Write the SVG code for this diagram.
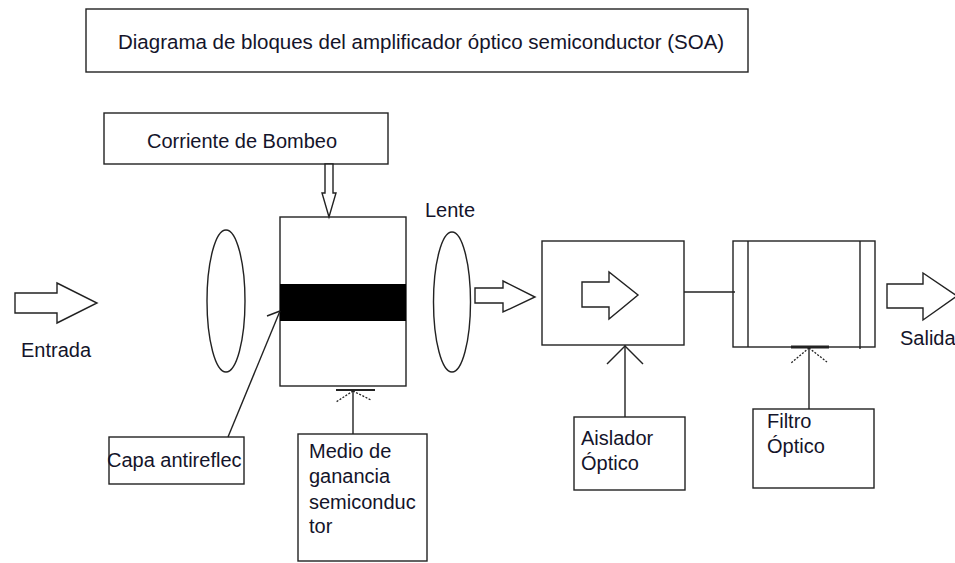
<svg xmlns="http://www.w3.org/2000/svg" width="955" height="563" viewBox="0 0 955 563">
<style>
.b{fill:#fff;stroke:#222;stroke-width:1.4}
.l{fill:none;stroke:#222;stroke-width:1.4}
.d{fill:none;stroke:#222;stroke-width:1.3;stroke-dasharray:2 1.5}
.t{font-family:"Liberation Sans",Arial,sans-serif;font-size:20px;fill:#14142a}
</style>
<rect width="955" height="563" fill="#fff"/>
<g id="title"><rect class="b" x="86" y="9" width="662" height="63"/><text class="t" x="118" y="49" style="font-size:20.5px">Diagrama de bloques del amplificador óptico semiconductor (SOA)</text></g>
<g id="corriente"><rect class="b" x="104" y="113" width="284" height="51"/><text class="t" x="147" y="148">Corriente de Bombeo</text></g>
<g id="soa"><rect class="b" x="280" y="217" width="126" height="169"/><rect x="280" y="284" width="126" height="37" fill="#000"/></g>
<g id="lens1"><ellipse class="l" cx="226" cy="301" rx="19" ry="71"/></g>
<g id="lens2"><ellipse class="l" cx="452" cy="302" rx="18.5" ry="70"/><text class="t" x="425" y="217">Lente</text></g>
<g id="entrada"><polygon class="b" points="15,293 57,293 57,283 97,303 57,323 57,313 15,313"/><text class="t" x="21" y="357">Entrada</text></g>
<g id="aislador"><rect class="b" x="542" y="241" width="142" height="104"/><polygon class="b" points="582,282 609,282 609,272 638,295 609,319 609,307 582,307"/></g>
<g id="filtro"><rect class="b" x="733" y="241" width="142" height="106"/><line class="l" x1="748" y1="241" x2="748" y2="347"/><line class="l" x1="860" y1="241" x2="860" y2="349"/></g>
<g id="salida"><polygon class="b" points="887,284 923,284 923,273 957,296 923,320 923,308 887,308"/><text class="t" x="900" y="345">Salida</text></g>
<g id="capa"><rect class="b" x="109" y="437" width="135" height="47"/><text class="t" x="107" y="467">Capa antireflec</text></g>
<g id="medio"><rect class="b" x="298" y="434" width="129" height="127"/><text class="t"><tspan x="309" y="458">Medio de</tspan><tspan x="309" y="483">ganancia</tspan><tspan x="309" y="509">semiconduc</tspan><tspan x="309" y="533">tor</tspan></text></g>
<g id="aislador-label"><rect class="b" x="574" y="417" width="111" height="73"/><text class="t"><tspan x="581" y="445">Aislador</tspan><tspan x="581" y="470">Óptico</tspan></text></g>
<g id="filtro-label"><rect class="b" x="753" y="409" width="121" height="79"/><text class="t"><tspan x="767" y="428">Filtro</tspan><tspan x="767" y="453">Óptico</tspan></text></g>
<g id="connectors">
<polygon class="b" points="325,164 333,164 333,193 336,193 329,217 322,193 325,193"/>
<polygon class="b" points="475,288 503,288 503,281 535,297 503,312 503,303 475,303"/>
<line class="l" x1="684" y1="292" x2="735" y2="292"/>
<line class="l" x1="228" y1="437" x2="280" y2="311"/>
<line class="l" x1="267" y1="316" x2="280" y2="311"/>
<line class="l" x1="353" y1="434" x2="353" y2="390"/>
<line x1="336" y1="390" x2="375" y2="390" stroke="#222" stroke-width="2"/>
<line class="d" x1="353" y1="391" x2="336" y2="402"/>
<line class="d" x1="353" y1="391" x2="371" y2="400"/>
<line class="l" x1="625" y1="417" x2="625" y2="345"/>
<line class="l" x1="625" y1="346" x2="607" y2="364"/>
<line class="l" x1="625" y1="346" x2="643" y2="364"/>
<line class="l" x1="809" y1="409" x2="809" y2="347"/>
<line x1="791" y1="347" x2="829" y2="347" stroke="#222" stroke-width="3"/>
<line class="d" x1="809" y1="348" x2="791" y2="363"/>
<line class="d" x1="809" y1="348" x2="827" y2="362"/>
</g>
</svg>
